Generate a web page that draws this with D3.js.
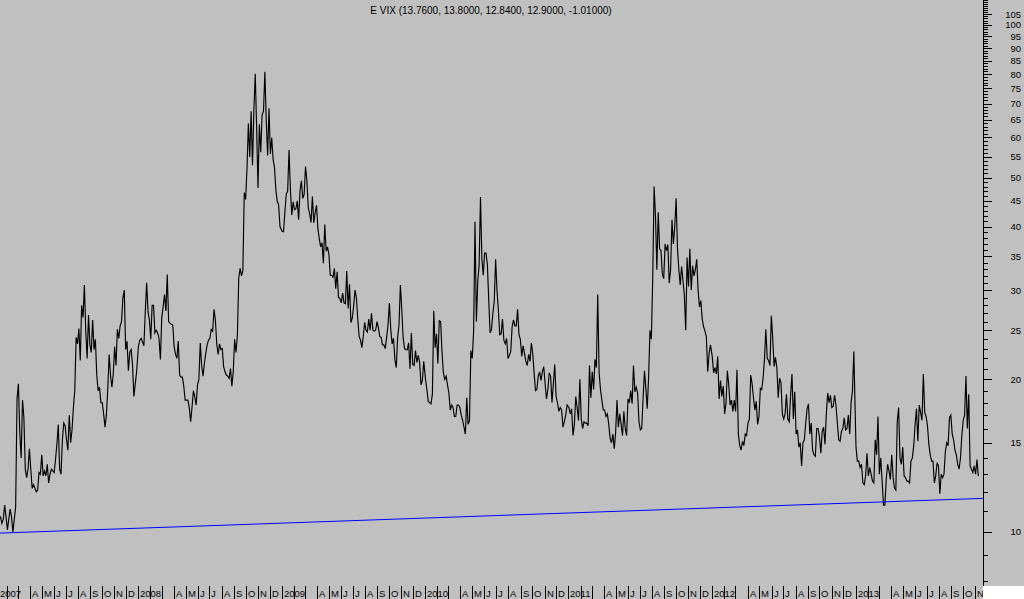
<!DOCTYPE html>
<html>
<head>
<meta charset="utf-8">
<style>
body { margin: 0; background: #fff; }
svg { display: block; }
text { font-family: "Liberation Sans", Arial, sans-serif; fill: #000; }
</style>
</head>
<body>
<svg id="chart"></svg>
<script src="https://cdn.jsdelivr.net/npm/d3@7"></script>
<script>
var width = 1024, height = 599;
var plotRight = 983, plotBottom = 586;

var title = "E VIX (13.7600, 13.8000, 12.8400, 12.9000, -1.01000)";

// VIX, two readings a week (every 3.5 days from Jan 2 of each year)
var vix2007 = [12.0,12.1,11.7,10.6,10.7,10.4,10.6,11.3,10.7,10.1,10.6,11.1,10.7,10.0,10.6,11.2,18.3,19.6,15.7,14.0,18.2,16.8,13.3,12.8,13.3,14.6,
  13.3,12.2,12.4,12.2,12.0,12.1,13.1,13.0,14.2,12.9,13.2,12.9,13.6,12.5,13.0,13.3,13.2,13.1,13.9,14.9,16.3,13.3,13.0,15.2,16.4,16.2,
  15.2,14.5,17.0,15.0,15.9,17.6,19.0,24.2,23.5,25.2,21.8,28.0,26.5,30.7,24.9,22.0,26.8,23.4,22.6,26.2,22.9,24.0,20.4,19.0,19.3,18.0,
  18.0,17.1,16.1,17.0,19.1,22.4,20.4,19.3,20.5,23.2,21.3,25.1,24.1,25.5,26.0,28.9,30.0,22.9,23.8,20.8,22.6,22.9,21.4,18.5,19.6,20.7];
var vix2008 = [23.2,23.9,24.1,23.7,23.3,27.2,31.0,27.2,26.2,24.0,28.0,28.0,24.7,25.0,24.7,24.1,21.9,26.5,27.8,29.4,27.3,32.2,26.0,25.8,25.7,25.6,
  23.2,22.4,22.0,23.8,20.4,20.2,20.2,19.4,18.2,18.2,18.2,17.6,16.5,17.6,19.0,18.5,17.8,19.5,20.0,23.6,21.3,20.3,21.5,22.5,23.4,23.9,
  24.1,25.1,24.9,27.5,26.2,23.5,22.4,23.5,22.9,23.0,21.2,20.7,20.4,20.3,20.1,21.0,19.4,20.7,24.0,22.6,24.4,31.7,33.1,32.0,32.8,46.7,
  45.3,52.1,63.9,54.9,67.6,52.9,67.8,80.1,62.9,47.7,63.7,56.1,66.5,67.6,80.9,64.7,55.3,68.5,55.7,59.9,54.3,52.4,47.3,44.9,44.2,40.0];
var vix2009 = [39.2,39.1,42.8,46.4,47.0,56.7,47.3,42.2,44.8,43.2,43.4,45.0,41.3,47.1,49.3,45.5,46.3,52.6,49.3,43.6,42.4,40.8,45.9,40.7,42.6,44.1,
  39.7,37.9,36.5,37.2,33.9,40.4,35.8,36.5,35.3,32.1,32.1,31.8,33.1,30.2,32.6,29.0,28.9,28.3,29.6,28.3,28.2,32.7,27.6,30.8,25.9,26.4,
  27.9,30.0,29.0,26.3,24.3,23.9,23.1,24.3,25.9,25.0,24.8,26.3,25.0,27.0,25.0,24.9,25.0,26.0,25.3,24.3,24.2,23.4,23.4,23.0,24.2,25.6,
  28.3,25.1,23.5,24.1,21.9,21.1,24.2,25.6,30.7,27.5,24.2,23.0,22.9,22.9,23.6,21.0,24.7,21.4,21.3,22.8,21.6,22.3,21.6,19.5,19.9,21.7];
var vix2010 = [20.0,19.1,18.1,18.0,17.9,18.7,27.3,23.1,24.6,21.5,26.1,26.0,22.7,20.6,20.0,20.3,19.5,18.8,17.4,17.8,17.6,16.9,16.9,17.8,17.8,17.6,
  17.0,16.6,16.1,15.6,18.4,16.3,16.6,22.8,22.0,24.9,40.9,26.0,31.2,33.6,45.8,34.6,32.1,35.5,35.5,33.7,28.6,24.7,25.1,27.0,28.5,34.5,
  30.0,27.4,24.5,24.6,26.3,23.9,23.5,24.1,22.0,22.3,22.7,25.4,26.2,25.5,25.5,27.5,24.5,24.0,22.2,23.3,22.5,21.7,21.3,22.4,21.7,23.6,
  22.5,20.6,19.0,19.1,20.3,20.7,19.9,20.7,21.2,19.6,18.3,19.1,20.6,20.3,18.0,19.6,21.4,18.5,18.0,17.3,17.6,17.4,16.1,16.5,17.0,17.8];
var vix2011 = [17.6,17.1,17.5,15.5,16.3,18.5,17.6,16.6,20.0,16.7,16.0,16.5,16.4,16.4,16.2,21.3,18.4,20.7,19.1,21.9,21.1,29.4,20.6,19.1,18.2,17.4,
  17.4,16.9,17.1,16.3,15.3,15.0,15.6,14.6,15.7,18.2,16.1,17.1,16.3,15.5,17.3,16.0,15.5,18.3,18.0,19.0,17.9,21.3,18.9,19.3,18.8,16.5,
  15.9,16.0,18.4,20.8,19.2,17.5,20.2,25.0,24.0,31.7,48.0,42.0,32.9,42.7,36.2,35.9,32.3,31.6,37.0,35.9,36.9,31.0,32.9,41.3,37.0,40.0,
  45.5,36.3,32.9,30.7,33.4,31.3,29.3,25.0,34.8,30.5,36.2,30.0,33.5,32.0,32.9,34.5,30.0,27.8,28.6,26.3,25.4,24.9,24.3,20.7,22.5,23.4];
var vix2012 = [22.2,20.6,21.1,20.5,22.2,18.3,19.9,18.5,19.4,17.1,17.9,20.8,19.5,17.8,18.2,17.3,18.2,17.3,20.9,15.6,14.8,14.5,15.1,14.8,15.6,15.5,
  16.4,16.7,20.4,19.6,18.4,17.4,18.1,16.3,16.9,19.2,19.1,20.1,21.9,25.1,22.0,21.8,21.3,26.7,24.1,21.2,22.1,21.1,18.4,20.1,19.7,17.1,
  16.7,17.1,18.7,16.7,16.5,18.6,20.5,16.7,18.9,15.6,15.9,14.7,15.0,13.5,15.0,15.2,16.4,17.5,17.9,15.6,16.4,14.5,14.2,14.1,16.0,16.0,
  15.4,14.3,15.8,16.1,14.9,17.1,18.8,18.0,18.6,17.6,17.7,18.6,17.8,16.4,15.2,15.1,15.8,16.0,16.8,15.9,16.0,17.0,15.6,18.0,19.0,22.7];
var vix2013 = [14.7,13.8,13.8,13.4,13.6,12.5,12.4,12.9,14.3,12.9,13.4,13.0,12.6,12.5,15.2,14.2,16.9,13.0,14.0,12.6,11.3,11.3,12.7,13.6,13.2,12.7,
  14.2,12.8,12.2,12.1,16.5,17.6,14.0,13.6,14.7,12.9,12.8,12.6,12.6,12.5,13.8,14.0,14.8,16.3,17.5,15.1,17.8,17.2,16.6,20.5,17.2,16.9,
  16.2,14.9,14.2,13.8,13.8,12.5,12.9,13.7,13.5,11.9,13.0,12.8,13.0,14.4,15.0,14.8,16.8,17.0,15.6,15.2,14.5,14.2,13.6,13.3,14.0,15.5,
  16.6,17.0,20.3,16.0,18.7,13.5,13.3,13.1,13.5,13.0,13.9,12.9];

var years = [2007, 2008, 2009, 2010, 2011, 2012, 2013];
var yearSeries = [vix2007, vix2008, vix2009, vix2010, vix2011, vix2012, vix2013];

// blue support line
var trendDates = ["2007-01-14", "2013-11-21"];
var trendValues = [9.95, 11.65];

var majorTicks = [10, 15, 20, 25, 30, 35, 40, 45, 50, 55, 60, 65, 70, 75, 80, 85, 90, 95, 100, 105];
var minorTicks = d3.range(8, 113);
var monthLetters = ["", "", "", "A", "M", "J", "J", "A", "S", "O", "N", "D"];

var parse = d3.timeParse("%Y-%m-%d");

var data = [];
yearSeries.forEach(function(arr, k) {
  var start = new Date(years[k], 0, 2);
  arr.forEach(function(v, i) {
    data.push({date: d3.timeHour.offset(start, i * 84), value: v});
  });
});

var x = d3.scaleTime()
  .domain([new Date(2008, 0, 1), new Date(2013, 10, 1)])
  .range([138, 975]);
var y = d3.scaleLog()
  .domain([10, 100])
  .range([532, 25]);

var svg = d3.select("#chart").attr("width", width).attr("height", height);

svg.append("rect").attr("width", width).attr("height", height).attr("fill", "#fff");
svg.append("rect").attr("width", width).attr("height", plotBottom).attr("fill", "#c0c0c0");
svg.append("rect").attr("y", plotBottom).attr("width", plotRight).attr("height", height - plotBottom).attr("fill", "#c0c0c0");

svg.append("clipPath").attr("id", "plotClip")
  .append("rect").attr("width", plotRight).attr("height", plotBottom);
svg.append("clipPath").attr("id", "axisClip")
  .append("rect").attr("y", plotBottom).attr("width", plotRight).attr("height", height - plotBottom);

var plot = svg.append("g").attr("clip-path", "url(#plotClip)");

var line = d3.line()
  .x(function(d) { return x(d.date); })
  .y(function(d) { return y(d.value); });

plot.append("path")
  .datum(data)
  .attr("d", line)
  .attr("fill", "none")
  .attr("stroke", "#000")
  .attr("stroke-width", 1.15);

var trend = trendDates.map(function(d, i) { return {date: parse(d), value: trendValues[i]}; });
plot.append("path")
  .datum(trend)
  .attr("d", line)
  .attr("fill", "none")
  .attr("stroke", "#0000ff")
  .attr("stroke-width", 1);

// title
svg.append("text")
  .attr("x", 491)
  .attr("y", 14)
  .attr("text-anchor", "middle")
  .style("font-size", "10px")
  .text(title);

// right value axis
var axis = svg.append("g");
axis.append("line")
  .attr("x1", plotRight + 0.5).attr("x2", plotRight + 0.5)
  .attr("y1", 0).attr("y2", plotBottom)
  .attr("stroke", "#000");

axis.selectAll("line.minor")
  .data(minorTicks)
  .enter().append("line")
  .attr("class", "minor")
  .attr("x1", plotRight).attr("x2", plotRight + 5)
  .attr("y1", function(d) { return Math.round(y(d)) + 0.5; })
  .attr("y2", function(d) { return Math.round(y(d)) + 0.5; })
  .attr("stroke", "#000");

axis.selectAll("line.major")
  .data(majorTicks)
  .enter().append("line")
  .attr("class", "major")
  .attr("x1", plotRight).attr("x2", plotRight + 9)
  .attr("y1", function(d) { return Math.round(y(d)) + 0.5; })
  .attr("y2", function(d) { return Math.round(y(d)) + 0.5; })
  .attr("stroke", "#000");

axis.selectAll("text")
  .data(majorTicks)
  .enter().append("text")
  .attr("x", 1021)
  .attr("y", function(d) { return y(d); })
  .attr("dy", "0.36em")
  .attr("text-anchor", "end")
  .style("font-size", "9.5px")
  .text(function(d) { return d; });

// bottom month strip
var months = d3.timeMonth.range(new Date(2007, 0, 1), new Date(2013, 11, 1));
var strip = svg.append("g").attr("clip-path", "url(#axisClip)");

strip.selectAll("line")
  .data(months)
  .enter().append("line")
  .attr("x1", function(d) { return Math.round(x(d)) + 0.5; })
  .attr("x2", function(d) { return Math.round(x(d)) + 0.5; })
  .attr("y1", plotBottom).attr("y2", height)
  .attr("stroke", "#000");

strip.selectAll("text")
  .data(months)
  .enter().append("text")
  .attr("x", function(d) { return Math.max(0, Math.round(x(d)) + 2); })
  .attr("y", 597)
  .style("font-size", "9.5px")
  .text(function(d) {
    var m = d.getMonth();
    return m === 0 ? d.getFullYear() : monthLetters[m];
  });
</script>
</body>
</html>
